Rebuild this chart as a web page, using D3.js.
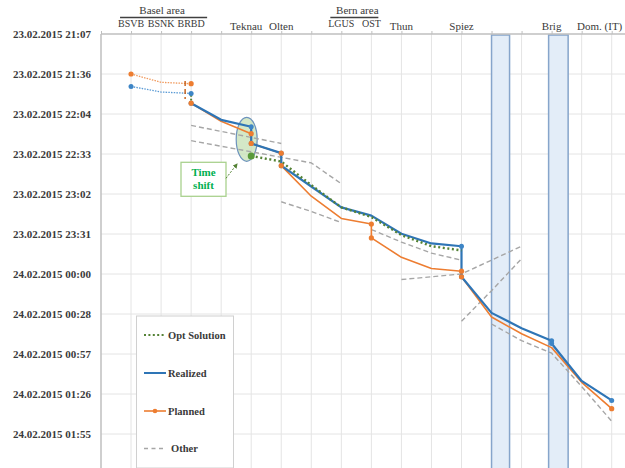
<!DOCTYPE html>
<html><head><meta charset="utf-8">
<script src="https://cdn.jsdelivr.net/npm/d3@7/dist/d3.min.js"></script>
<style>body{margin:0;background:#fff}svg{display:block}text{font-family:"Liberation Serif","Times New Roman",serif}</style>
</head><body><svg id="c" width="625" height="468"></svg>
<script>
// ---------- data ----------
const stations = ["", "BSVB", "BSNK", "BRBD", "", "Teknau", "Olten", "", "LGUS", "OST", "Thun", "", "Spiez", "", "", "Brig", "", "Dom. (IT)"];
const areaStations = ["BSVB", "BSNK", "BRBD", "LGUS", "OST"];
const areas = [{name: "Basel area", from: 1, to: 3}, {name: "Bern area", from: 8, to: 9}];
const yTickDays = [0.88, 0.90, 0.92, 0.94, 0.96, 0.98, 1.00, 1.02, 1.04, 1.06, 1.08];
const yTickLabels = ["23.02.2015 21:07", "23.02.2015 21:36", "23.02.2015 22:04", "23.02.2015 22:33", "23.02.2015 23:02", "23.02.2015 23:31",
  "24.02.2015 00:00", "24.02.2015 00:28", "24.02.2015 00:57", "24.02.2015 01:26", "24.02.2015 01:55"];

const plannedPre = [[1, "21:36"], [2, "21:42"], [3, "21:43"]];
const realizedPre = [[1, "21:45"], [2, "21:49"], [3, "21:50"]];
const plannedShift = [[2.8, "21:41"], [2.8, "21:54"]];
const optLink = [[3, "21:51"], [3, "21:55"]];

const planned = [[3, "21:57"], [4, "22:10"], [5, "22:19"], [5, "22:26"], [6, "22:33"], [6, "22:42"], [7, "23:04"], [8, "23:20"],
  [9, "23:24"], [9, "23:34"], [10, "23:48"], [11, "23:56"], [12, "23:58"], [12, "00:02"], [13, "00:31"], [14, "00:43"],
  [15, "00:53"], [16, "01:18"], [17, "01:37"]];
const realized = [[3, "21:57"], [4, "22:09"], [5, "22:14"], [5, "22:26"], [6, "22:33"], [6, "22:42"], [7, "22:57"], [8, "23:12"],
  [9, "23:18"], [10, "23:31"], [11, "23:38"], [12, "23:40"], [12, "00:02"], [13, "00:28"], [14, "00:39"], [15, "00:48"],
  [15, "00:50"], [16, "01:17"], [17, "01:31"]];
const opt = [[5, "22:35"], [6, "22:39"], [7, "22:56"], [8, "23:12"], [9, "23:19"], [10, "23:32"], [11, "23:40"], [12, "23:43"]];
const others = [
  [[3, "22:13"], [6, "22:26"]],
  [[3, "22:24"], [6, "22:36"], [7, "22:40"], [8, "22:55"]],
  [[6, "23:08"], [7, "23:15"], [8, "23:23"]],
  [[9, "23:28"], [10, "23:37"], [11, "23:45"], [12, "23:50"]],
  [[10, "00:04"], [12, "00:00"], [14, "23:40"]],
  [[12, "00:34"], [13, "00:12"], [14, "23:49"]],
  [[13, "00:36"], [14, "00:48"], [15, "00:57"], [16, "01:21"], [17, "01:46"]]
];
const tunnels = [[13, 13.6], [14.9, 15.55]];
const timeShift = {x: 4.85, t: "22:23", label: ["Time", "shift"]};
const legendItems = ["Opt Solution", "Realized", "Planned", "Other"];

// ---------- helpers ----------
function mins(s) { const [h, m] = s.split(":").map(Number); return (h < 12 ? h + 24 : h) * 60 + m; }
const svg = d3.select("#c");
const x = d3.scaleLinear().domain([0, 17]).range([101, 611.7]);
const y = d3.scaleLinear().domain([0.88 * 1440, 1.10 * 1440]).range([34, 474]);
const line = d3.line().x(d => x(d[0])).y(d => y(mins(d[1])));

const C = {blue: "#2e75b6", orange: "#ed7d31", green: "#548235", gray: "#a6a6a6", grid: "#e4e4e4", axis: "#bfbfbf", text: "#3a3a3a"};

// grid
svg.append("g").selectAll("line").data(yTickDays.slice(1)).join("line")
  .attr("x1", 101).attr("x2", 625).attr("y1", d => y(d * 1440)).attr("y2", d => y(d * 1440))
  .attr("stroke", C.grid).attr("stroke-width", 1);
svg.append("g").selectAll("line").data(d3.range(1, 18)).join("line")
  .attr("x1", d => x(d)).attr("x2", d => x(d)).attr("y1", 34).attr("y2", 468)
  .attr("stroke", C.grid).attr("stroke-width", 1);

// tunnels
svg.append("g").selectAll("rect").data(tunnels).join("rect")
  .attr("x", d => x(d[0])).attr("width", d => x(d[1]) - x(d[0]))
  .attr("y", 35).attr("height", 440)
  .attr("fill", "#e3edf8").attr("stroke", "#86a5cb").attr("stroke-width", 1.5);

// axes
const yAxis = d3.axisLeft(y).tickValues(yTickDays.map(d => d * 1440)).tickFormat((d, i) => yTickLabels[i]).tickSize(0).tickPadding(10);
const gy = svg.append("g").attr("transform", "translate(101,0)").call(yAxis);
gy.select(".domain").remove();
gy.selectAll("text").attr("font-size", 11).attr("font-weight", "bold").attr("fill", C.text);
svg.append("line").attr("x1", 101).attr("x2", 101).attr("y1", 34).attr("y2", 468).attr("stroke", C.axis).attr("stroke-width", 1.5);

const xAxis = d3.axisTop(x).tickValues(d3.range(0, 18)).tickFormat(() => "").tickSize(3).tickSizeOuter(0);
const gx = svg.append("g").attr("transform", "translate(0,34)").call(xAxis);
gx.select(".domain").remove();
gx.selectAll("line").attr("stroke", C.axis);
svg.append("line").attr("x1", 101).attr("x2", 625).attr("y1", 34).attr("y2", 34).attr("stroke", C.axis).attr("stroke-width", 1.3);

// station labels
svg.append("g").selectAll("text").data(stations.map((s, i) => [s, i]).filter(d => d[0])).join("text")
  .attr("x", d => x(d[1]) + (d[0] === "Dom. (IT)" ? -12 : (d[0] === "Teknau" ? -5 : 0)))
  .attr("y", d => areaStations.includes(d[0]) ? 27 : 30)
  .attr("text-anchor", "middle")
  .attr("font-size", d => areaStations.includes(d[0]) ? 10 : 11)
  .attr("fill", C.text).text(d => d[0]);
const ga = svg.append("g").selectAll("g").data(areas).join("g");
ga.append("text").attr("x", d => (x(d.from) + x(d.to)) / 2 + 1).attr("y", 14).attr("text-anchor", "middle")
  .attr("font-size", 11).attr("fill", C.text).text(d => d.name);
ga.append("line").attr("x1", d => x(d.from) - 11).attr("x2", d => x(d.to) + (d.from === 1 ? 16 : 7))
  .attr("y1", 17.5).attr("y2", 17.5).attr("stroke", "#404040").attr("stroke-width", 1.3);

// time shift ellipse (under lines)
svg.append("ellipse").attr("cx", x(timeShift.x)).attr("cy", y(mins(timeShift.t)))
  .attr("rx", 10.5).attr("ry", 22)
  .attr("fill", "#c5e0b4").attr("fill-opacity", 0.75).attr("stroke", "#6d93bd").attr("stroke-width", 1.2);

// other lines
svg.append("g").selectAll("path").data(others).join("path").attr("d", line)
  .attr("fill", "none").attr("stroke", C.gray).attr("stroke-width", 1.4).attr("stroke-dasharray", "5,3");

// pre-lines
svg.append("path").attr("d", line(plannedPre)).attr("fill", "none").attr("stroke", "#f09a5e").attr("stroke-width", 1.3).attr("stroke-dasharray", "1.5,1.2");
svg.append("path").attr("d", line(realizedPre)).attr("fill", "none").attr("stroke", "#5b9bd5").attr("stroke-width", 1.3).attr("stroke-dasharray", "1.5,1.2");
svg.append("path").attr("d", line(plannedShift)).attr("fill", "none").attr("stroke", "#c55a11").attr("stroke-width", 1.4).attr("stroke-dasharray", "5,3");
svg.append("path").attr("d", line(optLink)).attr("fill", "none").attr("stroke", C.green).attr("stroke-width", 2).attr("stroke-dasharray", "2,2");

// main lines
svg.append("path").attr("d", line(planned)).attr("fill", "none").attr("stroke", C.orange).attr("stroke-width", 1.6).attr("stroke-linejoin", "round");
svg.append("path").attr("d", line(realized)).attr("fill", "none").attr("stroke", C.blue).attr("stroke-width", 2.2).attr("stroke-linejoin", "round");
svg.append("path").attr("d", line(opt)).attr("fill", "none").attr("stroke", C.green).attr("stroke-width", 2.4).attr("stroke-dasharray", "2,2.6");

// markers: endpoints and stop points
function markerPts(s) {
  return s.filter((d, i) => i === 0 || i === s.length - 1 || (s[i - 1] && s[i - 1][0] === d[0]) || (s[i + 1] && s[i + 1][0] === d[0]));
}
svg.append("g").selectAll("circle").data([...markerPts(realized), realizedPre[0], realizedPre[2]]).join("circle")
  .attr("cx", d => x(d[0])).attr("cy", d => y(mins(d[1]))).attr("r", 2.5).attr("fill", "#3d85c6");
svg.append("g").selectAll("circle").data([...markerPts(planned), plannedPre[0], plannedPre[2]]).join("circle")
  .attr("cx", d => x(d[0])).attr("cy", d => y(mins(d[1]))).attr("r", 2.6).attr("fill", C.orange);
svg.append("circle").attr("cx", x(opt[0][0])).attr("cy", y(mins(opt[0][1]))).attr("r", 3.5).attr("fill", "#5a9a3a");

// time shift box
const bx = 181, by = 162.3;
svg.append("rect").attr("x", bx).attr("y", by).attr("width", 45).attr("height", 34)
  .attr("fill", "#fff").attr("stroke", "#a9d18e").attr("stroke-width", 1.3);
svg.append("g").selectAll("text").data(timeShift.label).join("text")
  .attr("x", bx + 22.5).attr("y", (d, i) => by + 14 + i * 13).attr("text-anchor", "middle")
  .attr("font-size", 11).attr("font-weight", "bold").attr("fill", "#00b050").text(d => d);
svg.append("defs").append("marker").attr("id", "ah").attr("viewBox", "0 0 10 10").attr("refX", 8).attr("refY", 5)
  .attr("markerWidth", 5).attr("markerHeight", 5).attr("orient", "auto")
  .append("path").attr("d", "M0,0L10,5L0,10z").attr("fill", C.green);
svg.append("line").attr("x1", bx + 45).attr("y1", by + 16).attr("x2", 237).attr("y2", 164)
  .attr("stroke", C.green).attr("stroke-width", 1).attr("stroke-dasharray", "2,1.5").attr("marker-end", "url(#ah)");

// legend
const lg = svg.append("g");
lg.append("rect").attr("x", 136.5).attr("y", 316).attr("width", 97).attr("height", 152)
  .attr("fill", "#fff").attr("stroke", "#d0d0d0").attr("stroke-width", 1);
const ly = [335, 373, 411, 448.5];
const li = lg.selectAll("g").data(legendItems).join("g").attr("transform", (d, i) => `translate(0,${ly[i]})`);
li.append("line").attr("x1", 144).attr("x2", 166).attr("y1", 0).attr("y2", 0)
  .attr("stroke", (d, i) => [C.green, C.blue, C.orange, C.gray][i])
  .attr("stroke-width", (d, i) => [2.2, 2, 1.6, 1.4][i])
  .attr("stroke-dasharray", (d, i) => ["2,2.4", null, null, "4,3.5"][i]);
li.filter((d, i) => i === 2).append("circle").attr("cx", 155).attr("cy", 0).attr("r", 2.3).attr("fill", C.orange);
li.append("text").attr("x", (d, i) => i === 3 ? 171 : 168).attr("y", 3.8)
  .attr("font-size", 10.5).attr("font-weight", "bold").attr("fill", C.text).text(d => d);
</script></body></html>
